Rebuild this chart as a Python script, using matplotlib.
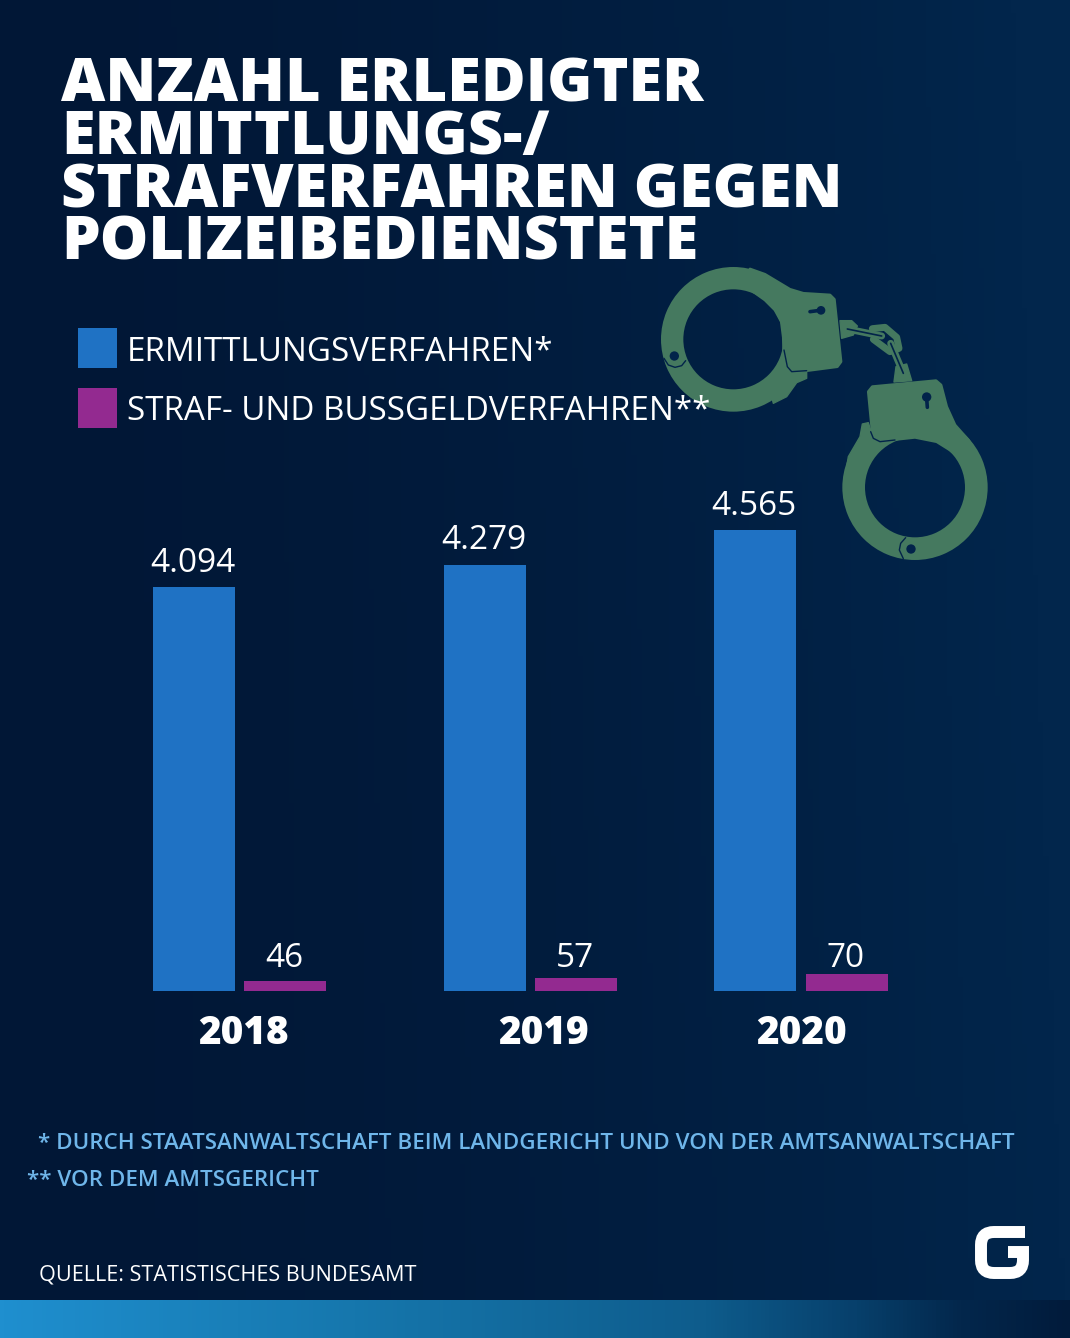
import numpy as np
import matplotlib
matplotlib.use('Agg')
import matplotlib.pyplot as plt
from matplotlib.colors import LinearSegmentedColormap
from matplotlib.patches import Rectangle, Annulus, Circle, PathPatch
from matplotlib.path import Path

years = ['2018', '2019', '2020']
ermittlung = [4094, 4279, 4565]
straf = [46, 57, 70]
ermittlung_labels = ['4.094', '4.279', '4.565']
straf_labels = ['46', '57', '70']
legend_labels = ['ERMITTLUNGSVERFAHREN*', 'STRAF- UND BUSSGELDVERFAHREN**']
title_lines = ['ANZAHL ERLEDIGTER', 'ERMITTLUNGS-/', 'STRAFVERFAHREN GEGEN', 'POLIZEIBEDIENSTETE']

W, H = 1070, 1338
BLUE = '#1f72c4'
PURPLE = '#932a90'
CUFF = '#45795f'
HOLE = '#02234a'
NOTE = '#6fb6ea'
plt.rcParams['font.family'] = ['Open Sans', 'DejaVu Sans']

fig = plt.figure(figsize=(W / 100, H / 100), dpi=100)

# page axes in pixel coordinates, y going down
page = fig.add_axes([0, 0, 1, 1])

# background, darker on the left
yy, xx = np.mgrid[0:1:100j, 0:1:200j]
shade = xx ** 1.6 + 0.08 * (1 - yy) * xx
bg_cmap = LinearSegmentedColormap.from_list('bg', ['#011736', '#02264c'])
page.imshow(shade, cmap=bg_cmap, vmin=0, vmax=1, extent=(0, W, H, 0), aspect='auto', zorder=0)

# strip at the bottom
strip_cmap = LinearSegmentedColormap.from_list('strip', [
    (0, '#1f8fcf'), (0.33, '#1677ad'), (0.66, '#0e5c8c'), (0.8, '#07406c'), (0.9, '#03274c'), (1, '#011b3b')])
page.imshow(np.linspace(0, 1, 256)[None, :], cmap=strip_cmap, extent=(0, W, 1338, 1300), aspect='auto', zorder=1)
page.set_xlim(0, W)
page.set_ylim(H, 0)
page.axis('off')


def z(x, y):
    # handcuff sketch was measured on a 3x crop starting at 640,250
    return 640 + x / 3, 250 + y / 3


def poly(points, lw=2.0, zorder=2):
    pts = [z(*p) for p in points]
    page.fill([p[0] for p in pts], [p[1] for p in pts], color=CUFF, lw=lw, joinstyle='round', zorder=zorder)


def ring(x, y, r_out, r_in):
    page.add_patch(Annulus(z(x, y), r_out / 3, (r_out - r_in) / 3, fc=CUFF, ec='none', zorder=2))


def stroke(points, color=CUFF, lw=3.0, zorder=3):
    pts = [z(*p) for p in points]
    page.plot([p[0] for p in pts], [p[1] for p in pts], color=color, lw=lw,
              solid_capstyle='round', solid_joinstyle='round', zorder=zorder)


def dot(x, y, r, color=HOLE):
    page.add_patch(Circle(z(x, y), r / 3, fc=color, ec='none', zorder=4))


# left cuff
ring(280, 268, 217, 150)
poly([(330, 57), (375, 73), (415, 97), (450, 118), (490, 130), (570, 135), (583, 148), (603, 335), (592, 350),
      (500, 362), (455, 365), (438, 350), (431, 300), (430, 262), (424, 215), (405, 180), (375, 150), (340, 125)])
poly([(395, 440), (425, 410), (440, 370), (500, 366), (500, 385), (470, 398), (440, 440), (400, 460)], lw=1)
stroke([(432, 300), (442, 350), (455, 365), (500, 362)], color=HOLE, lw=1.0)
stroke([(72, 325), (85, 345), (105, 352), (125, 347), (137, 332)], color=HOLE, lw=1.0)
dot(103, 318, 14)
dot(543, 181, 13)
stroke([(510, 185), (540, 181)], color=HOLE, lw=2.6, zorder=4)

# right cuff
ring(825, 712, 218, 150)
poly([(685, 425), (697, 410), (888, 392), (903, 405), (920, 470), (945, 525), (985, 570), (1010, 610), (960, 625),
      (930, 600), (890, 575), (825, 562), (770, 568), (715, 575), (698, 560)])
poly([(667, 522), (685, 518), (700, 565), (740, 582), (700, 610), (675, 660), (615, 680), (625, 620), (660, 560)], lw=1)
stroke([(692, 545), (700, 565), (720, 575), (765, 570)], color=HOLE, lw=1.0)
stroke([(797, 863), (782, 880), (778, 900), (790, 926)], color=HOLE, lw=1.0)
dot(813, 897, 14)
dot(860, 441, 14)
stroke([(860, 445), (862, 472)], color=HOLE, lw=2.6, zorder=4)

# chain
poly([(600, 212), (635, 212), (652, 228), (640, 255), (605, 265)], lw=1)
poly([(768, 350), (800, 342), (815, 392), (762, 396)], lw=1)
stroke([(622, 237), (725, 258)], lw=5.0)
stroke([(622, 237), (725, 258)], color=HOLE, lw=1.2, zorder=4)
stroke([(697, 236), (735, 232), (770, 262), (777, 295), (750, 305), (700, 268)], lw=5.0)
stroke([(752, 280), (790, 370)], lw=5.0)
stroke([(752, 280), (790, 370)], color=HOLE, lw=1.2, zorder=4)

# title, one text block with tight leading, anchored on the last baseline
page.text(61, 260, '\n'.join(title_lines), color='white', fontsize=44, fontweight=800, va='baseline',
          ha='left', linespacing=0.846, zorder=6)

# legend
for y0, yt, col, lab in zip([328, 388], [361, 420], [BLUE, PURPLE], legend_labels):
    page.add_patch(Rectangle((78, y0), 39, 40, fc=col, ec='none', zorder=6))
    page.text(127, yt, lab, color='white', fontsize=23.9, va='baseline', ha='left', zorder=6)

# bars, each series has its own scale and neither starts at zero
BASE = 991
TOP = 400
bar_ax = fig.add_axes([0, 1 - BASE / H, 1, (BASE - TOP) / H])
bar_ax.patch.set_alpha(0)
bar_ax.set_xlim(0, W)
bar_ax.set_ylim(755, 5639)
bar_ax.axis('off')
small_ax = bar_ax.twinx()
small_ax.set_ylim(12, 2050)
small_ax.axis('off')

blue_left = [153, 444, 714]
purple_left = [244, 535, 806]
year_x = [243, 543, 802]
bar_ax.bar(blue_left, ermittlung, width=82, bottom=0, align='edge', color=BLUE, zorder=3)
small_ax.bar(purple_left, straf, width=82, bottom=0, align='edge', color=PURPLE, zorder=3)

for x, v, lab in zip(blue_left, ermittlung, ermittlung_labels):
    bar_ax.annotate(lab, (x + 40, v), xytext=(0, 11), textcoords='offset points', ha='center',
                    va='baseline', color='white', fontsize=24)
for x, lab in zip(purple_left, straf_labels):
    page.text(x + 40, 967, lab, ha='center', va='baseline', color='white', fontsize=24, zorder=6)

for x, lab in zip(year_x, years):
    page.text(x, 1044, lab, color='white', fontsize=27.8, fontweight=800, ha='center', va='baseline', zorder=6)

# footnotes and source
page.text(38, 1149, '* DURCH STAATSANWALTSCHAFT BEIM LANDGERICHT UND VON DER AMTSANWALTSCHAFT',
          color=NOTE, fontsize=16.15, fontweight=600, va='baseline', zorder=6)
page.text(27, 1186, '** VOR DEM AMTSGERICHT', color=NOTE, fontsize=16.15, fontweight=600, va='baseline', zorder=6)
page.text(39, 1280, 'QUELLE: STATISTISCHES BUNDESAMT', color='white', fontsize=15.6, va='baseline', zorder=6)

# logo, rounded corners come from a thick curve through quadratic segments
logo = Path([(1025, 1232), (994, 1232), (981, 1232), (981, 1245), (981, 1260), (981, 1273), (994, 1273),
             (1010, 1273), (1023, 1273), (1023, 1260), (1023, 1252), (1008, 1252)],
            [Path.MOVETO, Path.LINETO, Path.CURVE3, Path.CURVE3, Path.LINETO, Path.CURVE3, Path.CURVE3,
             Path.LINETO, Path.CURVE3, Path.CURVE3, Path.LINETO, Path.LINETO])
page.add_patch(PathPatch(logo, fc='none', ec='white', lw=8.6, capstyle='butt', joinstyle='miter', zorder=6))

fig.savefig('out.png', dpi=100)
